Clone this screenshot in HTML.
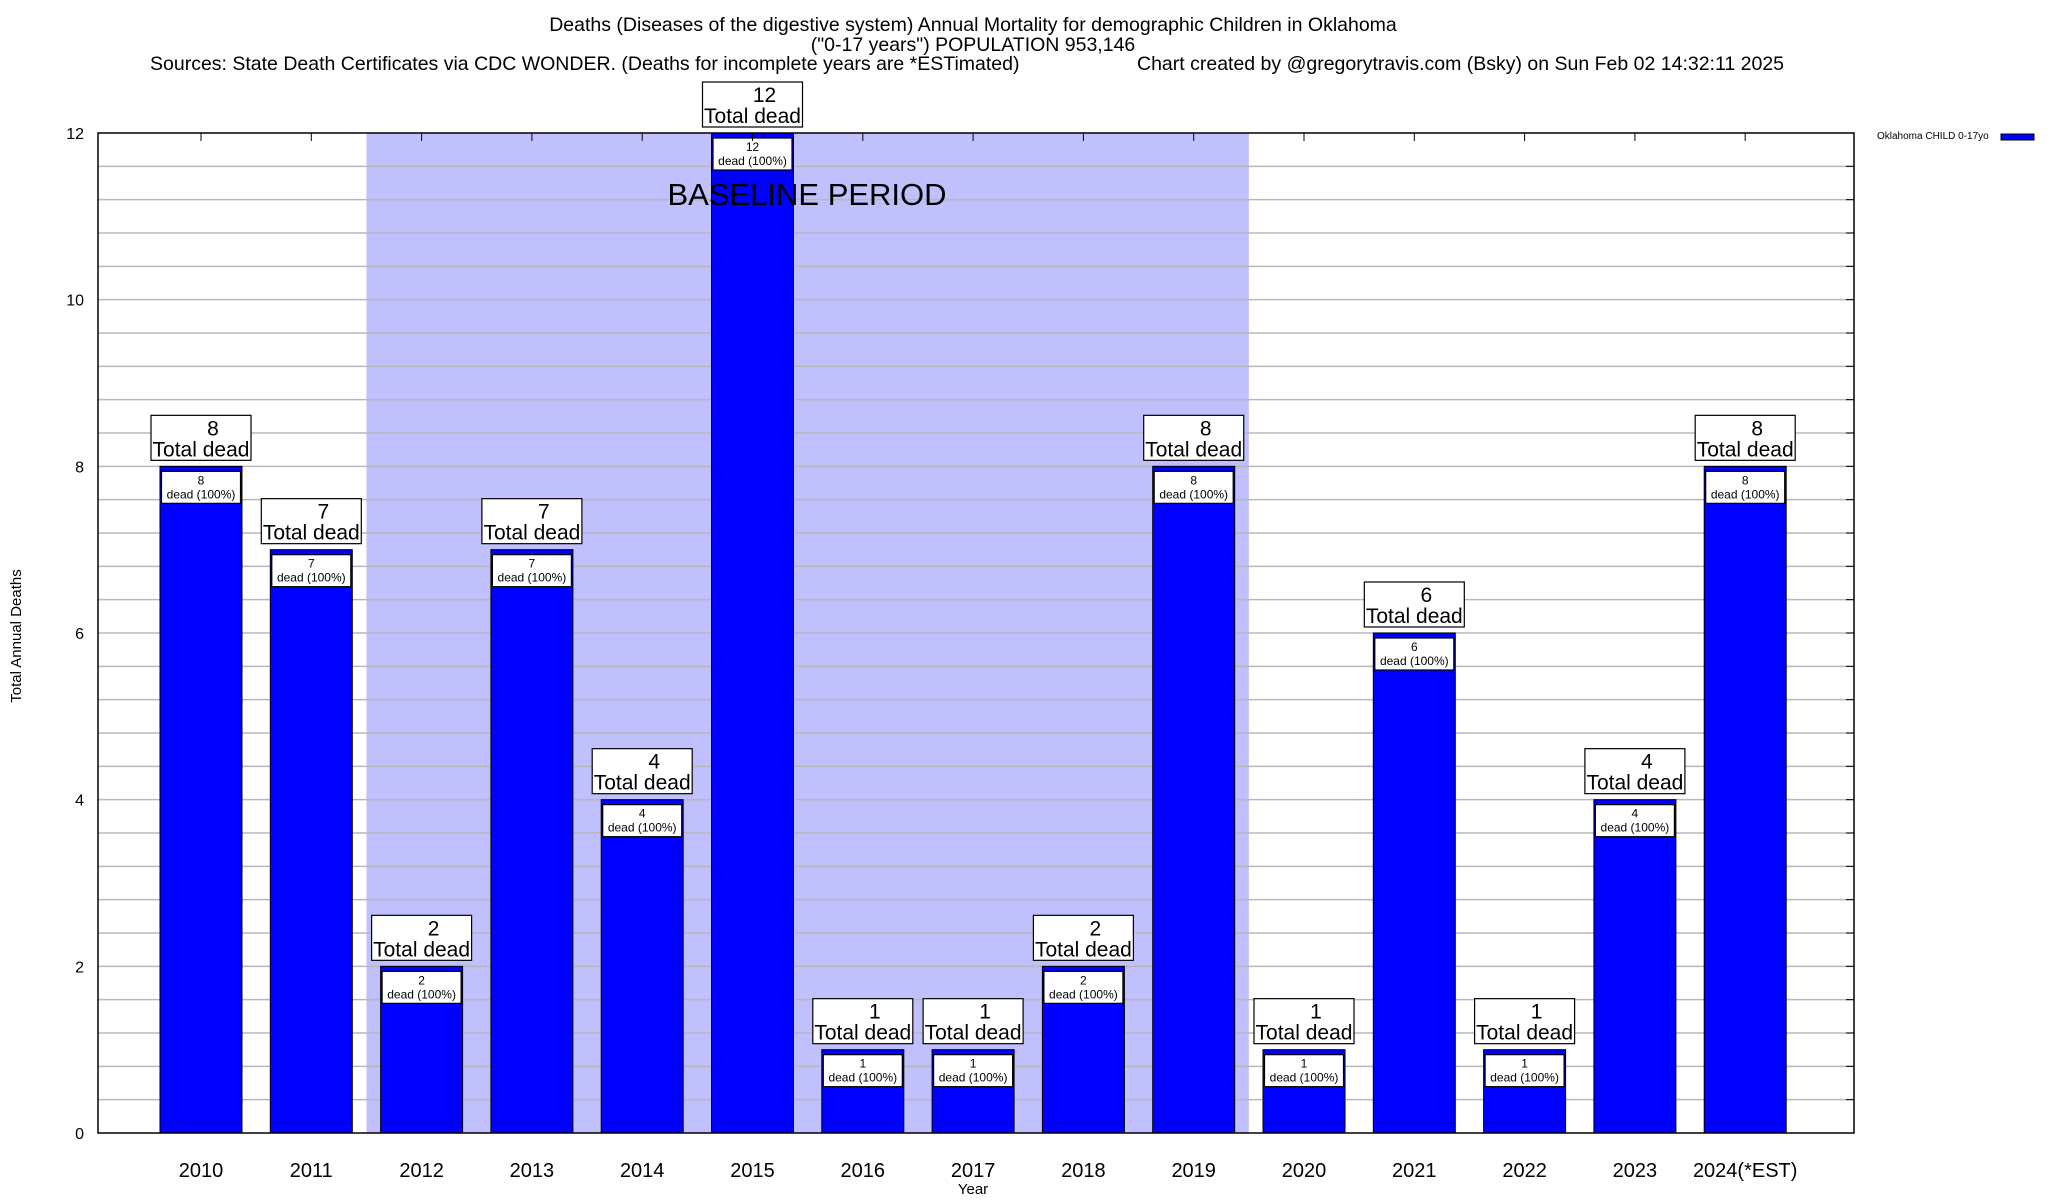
<!DOCTYPE html>
<html><head><meta charset="utf-8"><style>
html,body{margin:0;padding:0;background:#fff;}
svg{display:block;font-family:"Liberation Sans",Arial,sans-serif;}
</style></head><body>
<svg id="chart" width="2048" height="1200" viewBox="0 0 2048 1200" xmlns="http://www.w3.org/2000/svg">
<text x="973" y="31" font-size="19.5" text-anchor="middle">Deaths (Diseases of the digestive system) Annual Mortality for demographic Children in Oklahoma</text>
<text x="973" y="51" font-size="19.5" text-anchor="middle">("0-17 years") POPULATION 953,146</text>
<text x="150" y="70" font-size="19.5">Sources: State Death Certificates via CDC WONDER. (Deaths for incomplete years are *ESTimated)</text>
<text x="1137" y="70" font-size="19.5">Chart created by @gregorytravis.com (Bsky) on Sun Feb 02 14:32:11 2025</text>
<g id="plot"></g>
<text transform="translate(21,636) rotate(-90)" font-size="15" text-anchor="middle">Total Annual Deaths</text>
<text x="973" y="1194" font-size="15" text-anchor="middle">Year</text>
<g>
<text x="1877" y="139" font-size="10">Oklahoma CHILD 0-17yo</text>
<rect x="2001" y="134" width="33" height="6" fill="#0000ff" stroke="#000" stroke-width="1"/>
</g>
</svg>
<script>
const categories=["2010","2011","2012","2013","2014","2015","2016","2017","2018","2019","2020","2021","2022","2023","2024(*EST)"];
const deaths=[8,7,2,7,4,12,1,1,2,8,1,6,1,4,8];
const yTicks=[0,2,4,6,8,10,12];
const baselineStart=2, baselineEnd=9;
const NS="http://www.w3.org/2000/svg";
const L=98,R=1854,T=133,B=1133,yMax=12;
const x0=201,step=110.3,bw=82;
const y=v=>B-(v/yMax)*(B-T);
const xc=i=>x0+i*step;
const g=document.getElementById('plot');
function mk(tag,attrs,parent){const e=document.createElementNS(NS,tag);for(const k in attrs)e.setAttribute(k,attrs[k]);(parent||g).appendChild(e);return e;}
let sh=mk('rect',{x:xc(baselineStart)-step/2,y:T,width:(baselineEnd-baselineStart+1)*step,height:B-T,fill:'#c0c0fc'});


for(let v=0.4;v<yMax-0.01;v+=0.4){
  const gl=mk('line',{x1:L,x2:R,y1:y(v),y2:y(v),stroke:'#b8b8b8','stroke-width':1.5});
  
  
  const tk=mk('line',{x1:R-8,x2:R,y1:y(v),y2:y(v),stroke:'#000'});
  
  
}
yTicks.forEach(v=>{
  const t=mk('text',{x:L-14,y:y(v)+6,'font-size':16,'text-anchor':'end'});
  t.textContent=v;
  
  
});
let bt=mk('text',{x:807,y:205,'font-size':31,'text-anchor':'middle'});
bt.textContent='BASELINE PERIOD';


deaths.forEach((d,i)=>{
  const cx=xc(i);
  const bar=mk('rect',{x:cx-bw/2,y:y(d),width:bw,height:B-y(d),fill:'#0000ff',stroke:'#000','stroke-width':1});
  
  
  const ib=mk('rect',{x:cx-bw/2+1.5,y:y(d)+5,width:bw-3,height:32,fill:'#fff',stroke:'#000','stroke-width':1.2});
  
  
  const t1=mk('text',{x:cx,y:y(d)+18,'font-size':12,'text-anchor':'middle'});t1.textContent=d;
  
  
  const t2=mk('text',{x:cx,y:y(d)+32,'font-size':12,'text-anchor':'middle'});t2.textContent='dead (100%)';
  
  
  const ob=mk('rect',{x:cx-50,y:y(d)-51,width:100,height:45,fill:'#fff',stroke:'#000','stroke-width':1.2});
  
  
  const t3=mk('text',{x:cx+12,y:y(d)-31,'font-size':21,'text-anchor':'middle'});t3.textContent=d;
  
  
  const t4=mk('text',{x:cx,y:y(d)-10,'font-size':21,'text-anchor':'middle'});t4.textContent='Total dead';
  
  
  const xl=mk('text',{x:cx,y:1177,'font-size':20,'text-anchor':'middle'});xl.textContent=categories[i];
  
  
  const tt=mk('line',{x1:cx,x2:cx,y1:T,y2:T+8,stroke:'#000'});
  
  
});
let fr=mk('rect',{x:L,y:T,width:R-L,height:B-T,fill:'none',stroke:'#000','stroke-width':1.5});


g.appendChild(bt);
</script>
</body></html>
